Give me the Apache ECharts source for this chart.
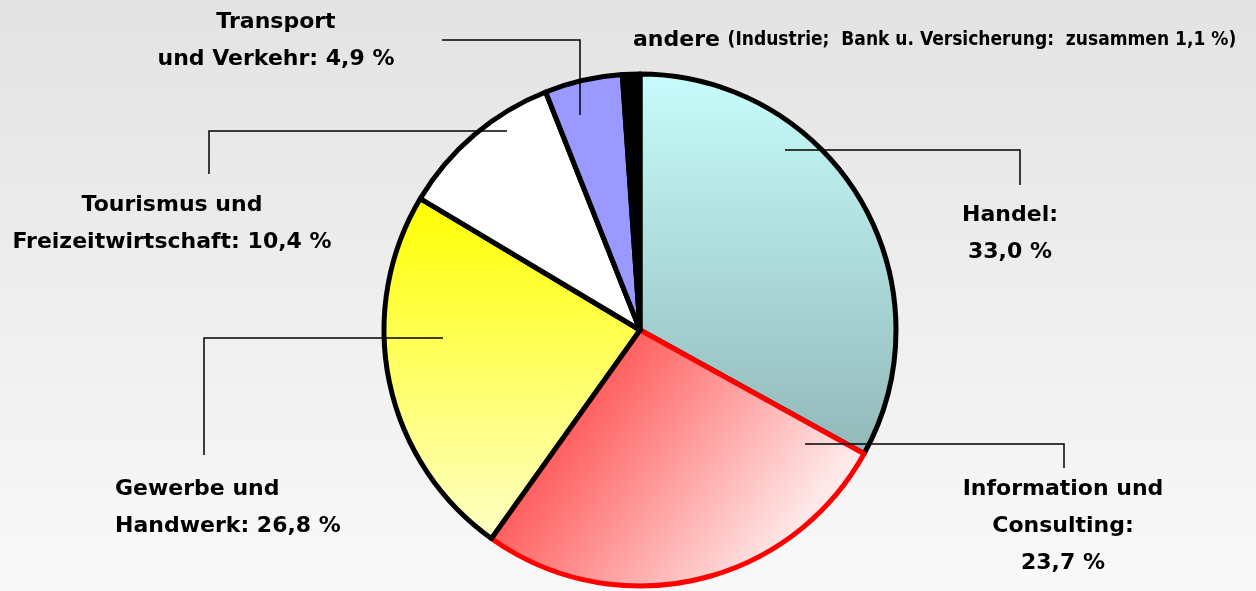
<!DOCTYPE html>
<html>
<head>
<meta charset="utf-8">
<script src="https://cdn.jsdelivr.net/npm/echarts@6/dist/echarts.min.js"></script>
<style>
  html, body { margin: 0; padding: 0; }
  #chart { width: 1256px; height: 591px; }
</style>
</head>
<body>
<div id="chart"></div>
<script>
// Branchen
var names = ['Handel', 'Information und Consulting', 'Gewerbe und Handwerk',
    'Tourismus und Freizeitwirtschaft', 'Transport und Verkehr', 'andere'];
// Tortenstücke so groß wie im Bild gezeichnet (Prozent)
var values = [33.0, 26.8, 23.7, 10.4, 4.9, 1.1];
// Prozentangaben, wie sie in den Beschriftungen stehen
var labelValues = [33.0, 23.7, 26.8, 10.4, 4.9, 1.1];
// Beschriftung vor dem Wert (mit Zeilenumbruch)
var labelPrefix = ['Handel:\n', 'Information und\nConsulting:\n', 'Gewerbe und\nHandwerk: ',
    'Tourismus und\nFreizeitwirtschaft: ', 'Transport\nund Verkehr: ', ''];

var grad = echarts.graphic.LinearGradient;
var sliceStyles = [
    {color: new grad(0, 0, 0, 1, [{offset: 0, color: '#c8fcfc'}, {offset: 1, color: '#92b8b8'}]), borderColor: '#000'},
    {color: new grad(0, 0, 1, 1, [{offset: 0, color: '#ff1a1a'}, {offset: 0.8, color: '#ffe8e8'}, {offset: 1, color: '#fff4f4'}]), borderColor: '#ff0000'},
    {color: new grad(0, 0, 0, 1, [{offset: 0, color: '#ffff00'}, {offset: 1, color: '#ffffc8'}]), borderColor: '#000'},
    {color: '#ffffff', borderColor: '#000'},
    {color: '#9999ff', borderColor: '#000'},
    {color: '#000000', borderColor: '#000'}
];

// Position der Beschriftungen und Führungslinien
var labelPos = [
    {x: 1010, y: 197, align: 'center', line: [[785, 150], [1020, 150], [1020, 185]]},
    {x: 1063, y: 471, align: 'center', line: [[805, 444], [1064, 444], [1064, 468]]},
    {x: 115, y: 471, align: 'left', line: [[443, 338], [204, 338], [204, 455]]},
    {x: 172, y: 187, align: 'center', line: [[507, 131], [209, 131], [209, 174]]},
    {x: 276, y: 4, align: 'center', line: [[580, 115], [580, 40], [442, 40]]},
    {x: 633, y: 22, align: 'left', line: null}
];

function fmt(v) {
    return v.toFixed(1).replace('.', ',') + ' %';
}

var pieData = [];
var labelData = [];
for (var i = 0; i < names.length; i++) {
    pieData.push({name: names[i], value: values[i], itemStyle: sliceStyles[i]});
    var item = {
        name: names[i],
        value: values[i],
        label: {align: labelPos[i].align}
    };
    if (i == 5) {
        item.label.formatter = '{a|andere} {b|(Industrie;  Bank u. Versicherung:  zusammen ' + fmt(labelValues[i]) + ')}';
        item.labelLine = {show: false};
    }
    labelData.push(item);
}

var option = {
    backgroundColor: new grad(0, 0, 0, 1, [{offset: 0, color: '#e3e3e3'}, {offset: 1, color: '#f9f9f9'}]),
    animation: false,
    series: [
        {
            type: 'pie',
            z: 2,
            center: [640, 330],
            radius: 256,
            startAngle: 90,
            clockwise: true,
            itemStyle: {borderWidth: 5, borderJoin: 'round'},
            label: {show: false},
            labelLine: {show: false},
            data: pieData
        },
        {
            // zweite, unsichtbare Torte nur für Beschriftungen, damit die Linien über den Stücken liegen
            type: 'pie',
            z: 5,
            center: [640, 330],
            radius: 256,
            startAngle: 90,
            clockwise: true,
            silent: true,
            avoidLabelOverlap: false,
            itemStyle: {color: 'rgba(0,0,0,0)', borderWidth: 0},
            label: {
                show: true,
                position: 'outside',
                fontFamily: 'DejaVu Sans',
                fontWeight: 'bold',
                fontSize: 22,
                lineHeight: 37,
                color: '#000',
                formatter: function (p) {
                    return labelPrefix[p.dataIndex] + fmt(labelValues[p.dataIndex]);
                },
                rich: {
                    a: {fontFamily: 'DejaVu Sans', fontWeight: 'bold', fontSize: 22, color: '#000'},
                    b: {fontFamily: '"DejaVu Sans Condensed", "DejaVu Sans"', fontWeight: 'bold', fontSize: 19, color: '#000'}
                }
            },
            labelLine: {
                show: true,
                lineStyle: {color: '#000', width: 1.5}
            },
            labelLayout: function (params) {
                var p = labelPos[params.dataIndex];
                var res = {x: p.x, y: p.y, align: p.align, verticalAlign: 'top'};
                if (p.line) {
                    res.labelLinePoints = p.line;
                }
                return res;
            },
            data: labelData
        }
    ]
};

var myChart = echarts.init(document.getElementById('chart'));
myChart.setOption(option);
</script>
</body>
</html>
